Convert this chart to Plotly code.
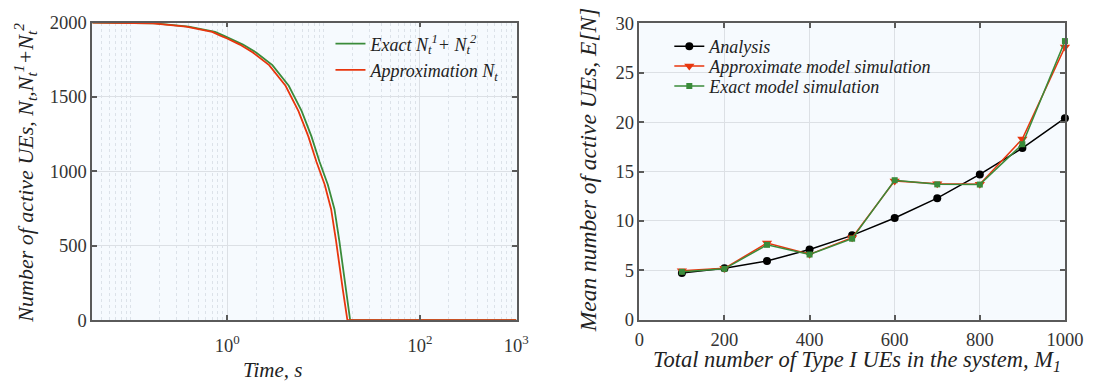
import plotly.graph_objects as go

# ---------- Left panel data ----------
t_approx = [0.04, 0.1, 0.17, 0.376, 0.70, 0.85, 1.0, 1.355, 1.85, 2.73, 4.04, 5.5, 6.96, 8.45, 10.3, 12.0, 13.5, 15.8, 17.7, 1000]
n_approx = [2000, 2000, 1995, 1973, 1937, 1912, 1893, 1852, 1799, 1714, 1575, 1405, 1235, 1064, 910, 745, 532, 213, 0, 0]

t_exact = [0.04, 0.1, 0.18, 0.40, 0.75, 0.92, 1.08, 1.46, 2.0, 2.95, 4.36, 5.94, 7.5, 9.1, 11.1, 13.0, 14.6, 17.1, 18.9, 1000]
n_exact = [2000, 2000, 1995, 1973, 1937, 1912, 1893, 1852, 1799, 1714, 1575, 1405, 1235, 1064, 910, 745, 532, 213, 0, 0]

# ---------- Right panel data ----------
m1 = [100, 200, 300, 400, 500, 600, 700, 800, 900, 1000]
analysis = [4.74, 5.2, 5.95, 7.1, 8.54, 10.3, 12.3, 14.7, 17.37, 20.4]
approx_sim = [4.95, 5.2, 7.77, 6.62, 8.3, 14.05, 13.76, 13.7, 18.3, 27.6]
exact_sim = [4.85, 5.15, 7.58, 6.6, 8.2, 14.12, 13.7, 13.68, 17.76, 28.2]

left_ticks = [1, 100, 1000]
left_ticktext = ["10<sup>0</sup>", "10<sup>2</sup>", "10<sup>3</sup>"]
minor_vals = [k * 10 ** e for e in range(-2, 3) for k in range(1, 10)]

GREEN = "#3A8B3A"
RED = "#E8360E"
FONT = "Liberation Serif"
BG = "#F6FAFE"
GRID = "#DCE0E5"
AXC = "#5A5A5A"

fig = go.Figure()

fig.add_trace(go.Scatter(
    x=t_exact, y=n_exact, mode="lines", line=dict(color=GREEN, width=1.8),
    name="Exact N<sub>t</sub><sup>1</sup>+ N<sub>t</sub><sup>2</sup>",
    xaxis="x", yaxis="y", legend="legend"))
fig.add_trace(go.Scatter(
    x=t_approx, y=n_approx, mode="lines", line=dict(color=RED, width=1.8),
    name="Approximation N<sub>t</sub>",
    xaxis="x", yaxis="y", legend="legend"))

fig.add_trace(go.Scatter(
    x=m1, y=analysis, mode="lines+markers", name="Analysis",
    line=dict(color="black", width=1.5), marker=dict(symbol="circle", size=8, color="black"),
    xaxis="x2", yaxis="y2", legend="legend2", cliponaxis=False))
fig.add_trace(go.Scatter(
    x=m1, y=approx_sim, mode="lines+markers", name="Approximate model simulation",
    line=dict(color=RED, width=1.5), marker=dict(symbol="triangle-down", size=9, color=RED),
    xaxis="x2", yaxis="y2", legend="legend3", cliponaxis=False))
fig.add_trace(go.Scatter(
    x=m1, y=exact_sim, mode="lines+markers", name="Exact model simulation",
    line=dict(color=GREEN, width=1.5), marker=dict(symbol="square", size=6, color=GREEN),
    xaxis="x2", yaxis="y2", legend="legend4", cliponaxis=False))

axis_common = dict(
    showline=True, linecolor=AXC, linewidth=1.5, mirror="ticks",
    ticks="inside", ticklen=5, tickcolor=AXC, tickwidth=1.5,
    showgrid=True, gridcolor=GRID, gridwidth=1, zeroline=False,
    tickfont=dict(family=FONT, size=18.5, color="#333333"),
)

leg_font = dict(family=FONT, size=18, color="#222222")
leg_common = dict(xanchor="left", yanchor="top", bgcolor="rgba(0,0,0,0)", font=leg_font, itemwidth=30)

fig.update_layout(
    width=1110, height=385,
    margin=dict(l=0, r=0, t=0, b=0),
    paper_bgcolor="white",
    plot_bgcolor=BG,
    showlegend=True,
    font=dict(family=FONT),
    xaxis=dict(
        type="log", domain=[0.0802, 0.4712], range=[-1.401, 3.005],
        tickvals=left_ticks, ticktext=left_ticktext, anchor="y",
        minor=dict(tickvals=minor_vals, showgrid=True, gridcolor="#DCE2E9", griddash="dot", gridwidth=1, ticks=""),
        ticklabelstandoff=8,
        **axis_common),
    yaxis=dict(
        domain=[0.1506, 0.9655], range=[0, 2000], tickvals=[0, 500, 1000, 1500, 2000],
        anchor="x", **axis_common),
    xaxis2=dict(
        domain=[0.5841, 0.9760], range=[0, 1000], tickvals=[0, 200, 400, 600, 800, 1000],
        anchor="y2", ticklabelstandoff=2, **axis_common),
    yaxis2=dict(
        domain=[0.1514, 0.9636], range=[0, 30], tickvals=[0, 5, 10, 15, 20, 25, 30],
        anchor="x2", **axis_common),
    legend=dict(x=0.2997, y=0.958, **leg_common),
    legend2=dict(x=0.6117, y=0.9506, **leg_common),
    legend3=dict(x=0.6117, y=0.8961, **leg_common),
    legend4=dict(x=0.6117, y=0.8416, **leg_common),
)

annotations = [
    dict(text="<i>Time, s</i>", x=274 / 1110, y=1 - 380 / 385, xref="paper", yref="paper",
         showarrow=False, font=dict(family=FONT, size=21, color="#222222"), xanchor="center", yanchor="middle"),
    dict(text="<i>Total number of Type I UEs in the system, M<sub>1</sub></i>", x=871 / 1110, y=1 - 370 / 385,
         xref="paper", yref="paper", showarrow=False, font=dict(family=FONT, size=22.5, color="#222222"),
         xanchor="center", yanchor="middle"),
    dict(text="<i>Number of active UEs, N<sub>t</sub>,N<sub>t</sub><sup>1</sup>+N<sub>t</sub><sup>2</sup></i>",
         x=20 / 1110, y=1 - 172 / 385, xref="paper", yref="paper", textangle=-90,
         showarrow=False, font=dict(family=FONT, size=22, color="#222222"), xanchor="center", yanchor="middle"),
    dict(text="<i>Mean number of active UEs, E[N]</i>", x=596 / 1110, y=1 - 169 / 385,
         xref="paper", yref="paper", textangle=-90,
         showarrow=False, font=dict(family=FONT, size=23.5, color="#222222"), xanchor="center", yanchor="middle"),
]
fig.update_layout(annotations=annotations)

# italic legend names
for tr in fig.data:
    tr.name = "<i>" + tr.name + "</i>"

fig.write_html("out.html")
